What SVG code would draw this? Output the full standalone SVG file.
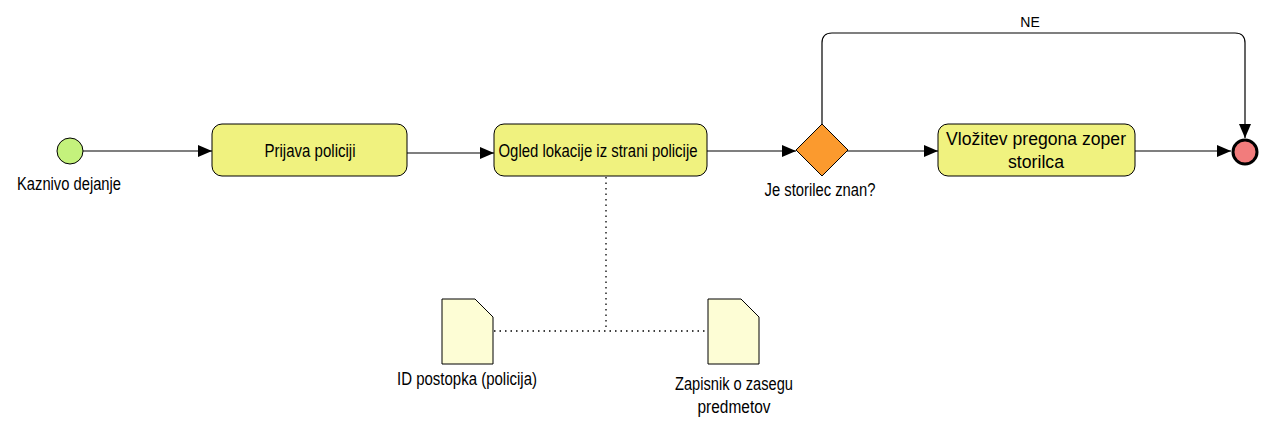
<svg xmlns="http://www.w3.org/2000/svg" width="1277" height="430" viewBox="0 0 1277 430">
<style>
text{font-family:"Liberation Sans",Arial,sans-serif;font-size:17.5px;fill:#000;text-anchor:middle}
.task{fill:#f0f27f;stroke:#000;stroke-width:1}
.flow{fill:none;stroke:#000;stroke-width:1.2}
.assoc{fill:none;stroke:#000;stroke-width:1.3;stroke-dasharray:1.5 4}
.doc{fill:#fdfdd5;stroke:#000;stroke-width:1}
</style>
<defs>
<marker id="arr" viewBox="0 0 14 12" refX="14" refY="6" markerWidth="14" markerHeight="12" markerUnits="userSpaceOnUse" orient="auto">
<path d="M0,0 L14,6 L0,12 Z" fill="#000"/>
</marker>
</defs>
<rect width="1277" height="430" fill="#fff"/>
<g id="connectors">
<path class="flow" d="M83,151 H212" marker-end="url(#arr)"/>
<path class="flow" d="M407,153 H494" marker-end="url(#arr)"/>
<path class="flow" d="M707,151 H796" marker-end="url(#arr)"/>
<path class="flow" d="M847,151 H938" marker-end="url(#arr)"/>
<path class="flow" d="M1135,151 H1231" marker-end="url(#arr)"/>
<path class="flow" d="M822,125 V43 Q822,33 832,33 H1235 Q1245,33 1245,43 V138" marker-end="url(#arr)"/>
<text x="1030" y="27" style="font-size:14px">NE</text>
<path class="assoc" d="M606,177 V331"/>
<path class="assoc" d="M494,331 H707"/>
</g>
<g id="start">
<circle cx="70" cy="151" r="13" fill="#c4f27c" stroke="#000" stroke-width="1"/>
<text x="69" y="190" textLength="104" lengthAdjust="spacingAndGlyphs">Kaznivo dejanje</text>
</g>
<g id="task-prijava">
<rect class="task" x="212" y="124" width="195" height="52" rx="10"/>
<text x="310" y="157" textLength="91" lengthAdjust="spacingAndGlyphs">Prijava policiji</text>
</g>
<g id="task-ogled">
<rect class="task" x="494" y="124" width="213" height="52" rx="10"/>
<text x="598" y="157" textLength="199" lengthAdjust="spacingAndGlyphs">Ogled lokacije iz strani policije</text>
</g>
<g id="gateway">
<path d="M822,124 L848,150 L822,176 L796,150 Z" fill="#fb9a2e" stroke="#000" stroke-width="1"/>
<text x="820" y="196" textLength="111" lengthAdjust="spacingAndGlyphs">Je storilec znan?</text>
</g>
<g id="task-vlozitev">
<rect class="task" x="938" y="124" width="197" height="52" rx="10"/>
<text x="1036" y="145" textLength="180" lengthAdjust="spacingAndGlyphs">Vložitev pregona zoper</text>
<text x="1036" y="168" textLength="56" lengthAdjust="spacingAndGlyphs">storilca</text>
</g>
<g id="end">
<circle cx="1245" cy="152" r="12" fill="#f27c7c" stroke="#000" stroke-width="3"/>
</g>
<g id="doc-id">
<path class="doc" d="M442,299 H475 L493,317 V364 H442 Z"/>
<text x="467" y="385" textLength="140" lengthAdjust="spacingAndGlyphs">ID postopka (policija)</text>
</g>
<g id="doc-zapisnik">
<path class="doc" d="M708,299 H741 L759,317 V364 H708 Z"/>
<text x="734" y="390" textLength="118" lengthAdjust="spacingAndGlyphs">Zapisnik o zasegu</text>
<text x="734" y="413" textLength="73" lengthAdjust="spacingAndGlyphs">predmetov</text>
</g>
</svg>
